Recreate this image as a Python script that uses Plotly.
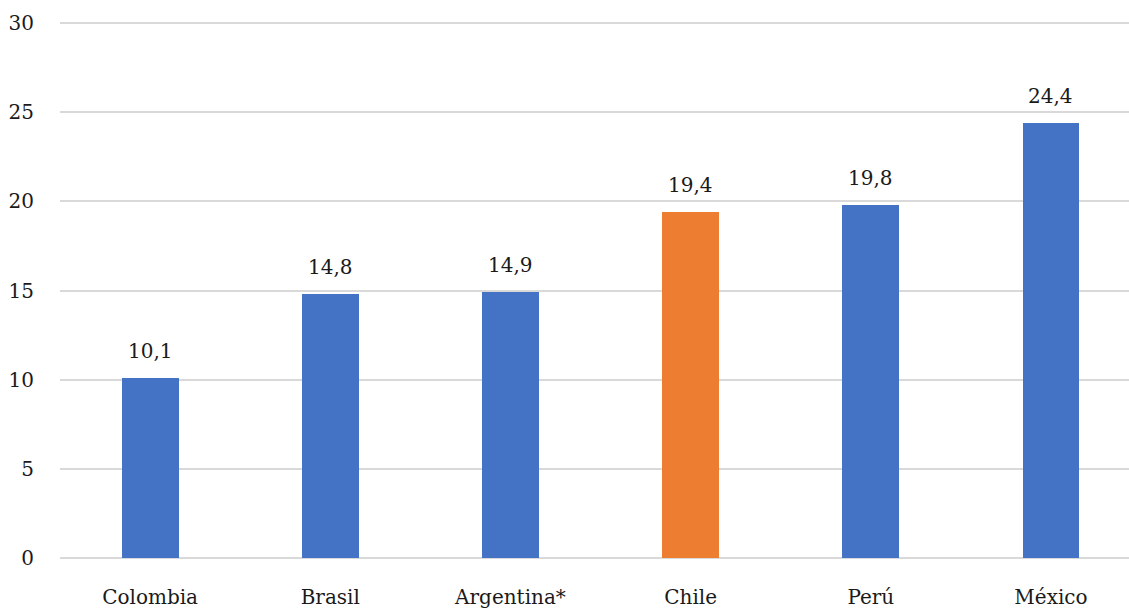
import plotly.graph_objects as go

countries = ["Colombia", "Brasil", "Argentina*", "Chile", "Perú", "México"]
values = [10.1, 14.8, 14.9, 19.4, 19.8, 24.4]
highlight = "Chile"
y_ticks = [0, 5, 10, 15, 20, 25, 30]

BLUE = "#4472C4"
ORANGE = "#ED7D31"
GRID = "#D9D9D9"
FONT = "DejaVu Serif"
SIZE = 20

colors = [ORANGE if c == highlight else BLUE for c in countries]
labels = [f"{v:.1f}".replace(".", ",") for v in values]

fig = go.Figure(
    go.Bar(
        x=countries,
        y=values,
        marker=dict(color=colors, line=dict(width=0)),
        width=0.316,
        hoverinfo="skip",
    )
)

for c, v, t in zip(countries, values, labels):
    fig.add_annotation(
        x=c, y=v, text=t, showarrow=False, yanchor="bottom", yshift=13,
        font=dict(family=FONT, size=SIZE, color="#1a1a1a"),
    )

fig.update_layout(
    width=1129,
    height=608,
    margin=dict(l=60, r=0, t=22, b=50),
    plot_bgcolor="white",
    paper_bgcolor="white",
    showlegend=False,
    font=dict(family=FONT, size=SIZE, color="#1a1a1a"),
    bargap=0,
)

fig.update_xaxes(
    range=[-0.5, 5.433],
    showgrid=False,
    showline=False,
    ticks="",
    ticklabelstandoff=25,
    tickfont=dict(family=FONT, size=SIZE),
)

fig.update_yaxes(
    range=[0, 30.06],
    tickvals=y_ticks,
    showgrid=True,
    gridcolor=GRID,
    gridwidth=2,
    zeroline=True,
    zerolinecolor=GRID,
    zerolinewidth=2,
    showline=False,
    ticks="",
    ticklabelstandoff=25,
    tickfont=dict(family=FONT, size=SIZE),
)

fig.write_html("out.html")
